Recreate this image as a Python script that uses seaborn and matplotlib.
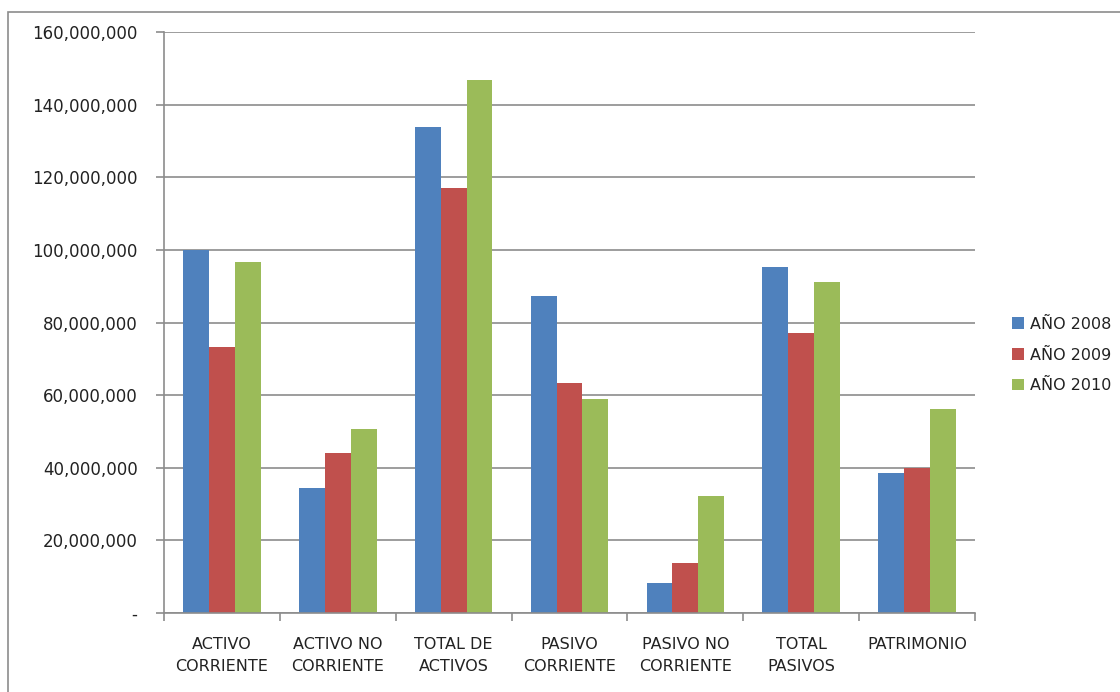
import matplotlib
matplotlib.use("Agg")
import matplotlib.pyplot as plt
import matplotlib.ticker as mticker
from matplotlib.patches import Rectangle
import seaborn as sns
import pandas as pd

categories = ["ACTIVO\nCORRIENTE", "ACTIVO NO\nCORRIENTE", "TOTAL DE\nACTIVOS",
              "PASIVO\nCORRIENTE", "PASIVO NO\nCORRIENTE", "TOTAL\nPASIVOS", "PATRIMONIO"]
series_names = ["AÑO 2008", "AÑO 2009", "AÑO 2010"]
values_2008 = [100.0e6, 34.4e6, 133.9e6, 87.3e6, 8.2e6, 95.4e6, 38.6e6]
values_2009 = [73.3e6, 44.1e6, 117.1e6, 63.4e6, 13.7e6, 77.0e6, 40.0e6]
values_2010 = [96.7e6, 50.7e6, 146.8e6, 58.8e6, 32.3e6, 91.1e6, 56.1e6]
y_ticks = [0, 20e6, 40e6, 60e6, 80e6, 100e6, 120e6, 140e6, 160e6]
colors = ["#4F81BD", "#C0504D", "#9BBB59"]

rows = []
for name, vals in zip(series_names, [values_2008, values_2009, values_2010]):
    for c, v in zip(categories, vals):
        rows.append({"cat": c, "val": v, "year": name})
df = pd.DataFrame(rows)

sns.set_style("white")
plt.rcParams['font.family'] = ['DejaVu Sans']

fig = plt.figure(figsize=(11.2, 6.92), dpi=100)
ax = fig.add_axes([164/1120, 1-613/692, (975-164)/1120, (613-32)/692])

sns.barplot(data=df, x="cat", y="val", hue="year", palette=colors,
            width=0.67, saturation=1, linewidth=0, ax=ax, legend=True)

ax.set_ylim(0, 160e6)
ax.set_xlim(-0.5, len(categories)-0.5)
ax.set_yticks(y_ticks)
ax.yaxis.set_major_formatter(mticker.FuncFormatter(
    lambda v, p: "-" if v == 0 else f"{int(round(v)):,}"))
ax.set_xlabel("")
ax.set_ylabel("")
ax.grid(axis="y", color="#8c8c8c", linewidth=1.2)
ax.set_axisbelow(True)
for s in ["top", "right"]:
    ax.spines[s].set_visible(False)
for s in ["left", "bottom"]:
    ax.spines[s].set_color("#8c8c8c")
    ax.spines[s].set_linewidth(1.2)

ax.tick_params(axis="y", direction="out", length=6, color="#8c8c8c",
               width=1.2, labelsize=12, labelcolor="#222222", pad=13, left=True)
ax.tick_params(axis="x", which="major", length=0, labelsize=11.5,
               labelcolor="#222222", pad=17)
ax.set_xticks([i - 0.5 for i in range(len(categories)+1)], minor=True)
ax.tick_params(axis="x", which="minor", direction="out", length=6,
               color="#8c8c8c", width=1.2, bottom=True)
for lab in ax.get_xticklabels():
    lab.set_multialignment("center")
    lab.set_linespacing(1.6)

handles, labels = ax.get_legend_handles_labels()
ax.get_legend().remove()
fig.legend(handles, labels, loc="center left", bbox_to_anchor=(998/1120, 1-355/692),
           frameon=False, fontsize=11.5, handlelength=0.7, handleheight=0.7,
           handletextpad=0.4, labelspacing=1.0, labelcolor="#222222")

fig.patches.append(Rectangle((8/1120, -0.1), 1.2, 1.1 - 12/692,
                             transform=fig.transFigure, fill=False,
                             edgecolor="#8c8c8c", linewidth=1.2))

fig.savefig("out.png", dpi=100, facecolor="white")
